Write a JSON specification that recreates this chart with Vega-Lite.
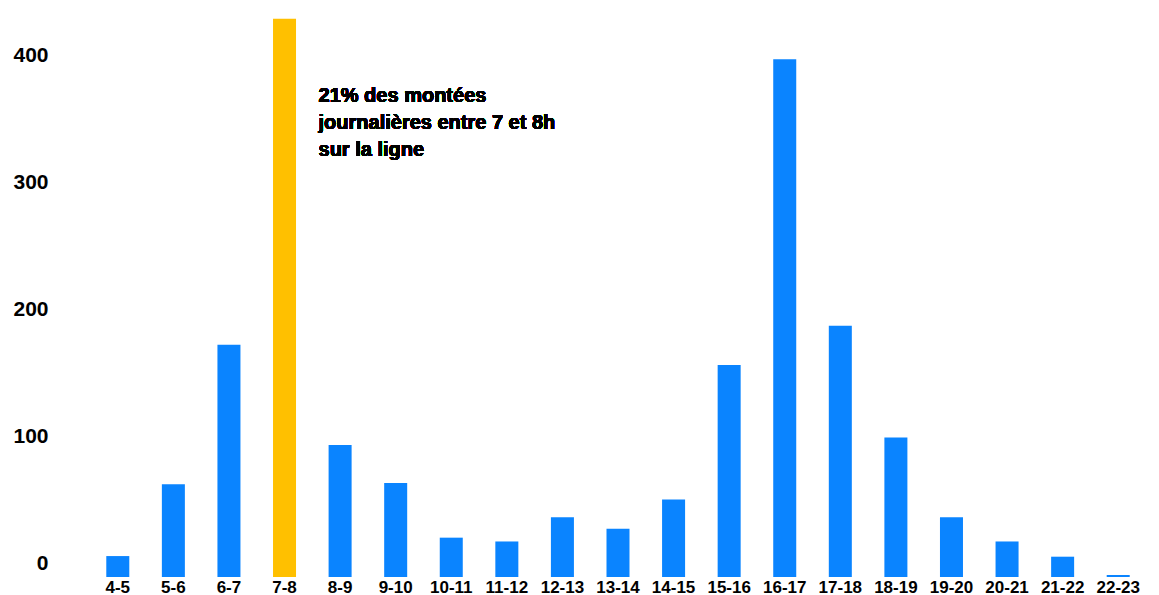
{
  "$schema": "https://vega.github.io/schema/vega-lite/v6.json",
  "width": 1056,
  "height": 571,
  "autosize": "none",
  "padding": {"left": 90, "top": 6, "right": 13, "bottom": 18},
  "background": "white",
  "config": {"view": {"stroke": null}, "font": "Liberation Sans"},
  "data": {"values": [
    {"tranche": "4-5", "montees": 16.5},
    {"tranche": "5-6", "montees": 73},
    {"tranche": "6-7", "montees": 183},
    {"tranche": "7-8", "montees": 440},
    {"tranche": "8-9", "montees": 104},
    {"tranche": "9-10", "montees": 74},
    {"tranche": "10-11", "montees": 31},
    {"tranche": "11-12", "montees": 28},
    {"tranche": "12-13", "montees": 47},
    {"tranche": "13-14", "montees": 38},
    {"tranche": "14-15", "montees": 61},
    {"tranche": "15-16", "montees": 167},
    {"tranche": "16-17", "montees": 408},
    {"tranche": "17-18", "montees": 198},
    {"tranche": "18-19", "montees": 110},
    {"tranche": "19-20", "montees": 47},
    {"tranche": "20-21", "montees": 28},
    {"tranche": "21-22", "montees": 16},
    {"tranche": "22-23", "montees": 1.5}
  ]},
  "layer": [
    {
      "mark": {"type": "bar"},
      "encoding": {
        "x": {
          "field": "tranche", "type": "nominal", "sort": null,
          "scale": {"paddingInner": 0.586, "paddingOuter": 0.293},
          "axis": {"title": null, "labelAngle": 0, "ticks": false, "domain": false, "labelPadding": 2,
                   "labelFontSize": 17, "labelFontWeight": "bold", "labelColor": "black"}
        },
        "y": {
          "field": "montees", "type": "quantitative",
          "scale": {"domain": [0, 450], "nice": false},
          "axis": {"title": null, "values": [0, 100, 200, 300, 400], "grid": false, "ticks": false, "domain": false,
                   "labelPadding": 42, "labelOffset": -14, "labelFontSize": 21, "labelFontWeight": "bold", "labelColor": "black"}
        },
        "color": {
          "condition": {"test": "datum.tranche === '7-8'", "value": "#FFC000"},
          "value": "#0A84FF"
        }
      }
    },
    {
      "mark": {"type": "text", "align": "left", "baseline": "alphabetic", "dx": 34, "fontSize": 20, "fontWeight": "bold",
               "lineHeight": 27, "color": "black",
               "text": ["21% des montées", "journalières entre 7 et 8h", "sur la ligne"]},
      "encoding": {
        "x": {"datum": "7-8"},
        "y": {"datum": 374}
      }
    }
  ]
}
